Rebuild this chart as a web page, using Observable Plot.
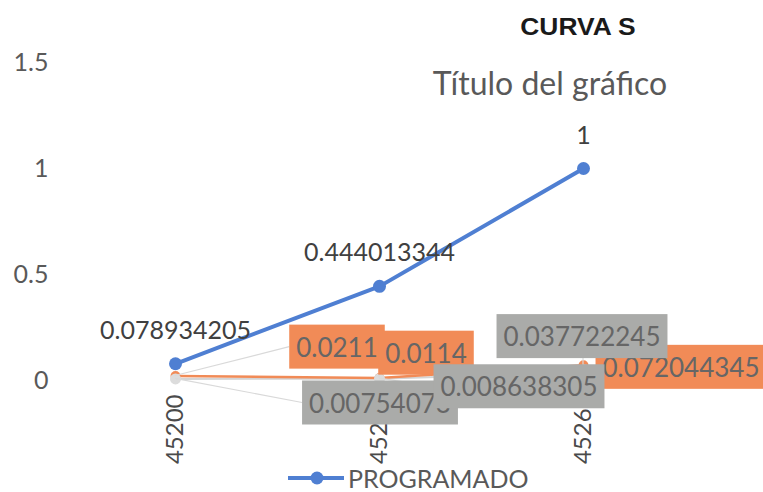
<!DOCTYPE html>
<html>
<head>
<meta charset="utf-8">
<script src="https://cdn.jsdelivr.net/npm/d3@7"></script>
<script src="https://cdn.jsdelivr.net/npm/@observablehq/plot@0.6"></script>
<style>
  html, body { margin: 0; padding: 0; background: #fff; }
  #wrap { position: relative; width: 763px; height: 492px; overflow: hidden; background: #fff; }
  #title { position: absolute; left: 578px; top: 13px; white-space: nowrap;
           font-family: "Liberation Sans", Arial, sans-serif; font-weight: bold; font-size: 24px; color: #1a1a1a;
           transform: translateX(-50%) scaleX(1.1); }
  #subtitle { position: absolute; left: 550px; top: 63px; white-space: nowrap; transform: translateX(-50%);
              font-family: Lato, sans-serif; font-size: 32px; color: #595959; }
  #legend { position: absolute; left: 288px; top: 463px; display: flex; align-items: center;
            font-family: Lato, sans-serif; font-size: 25px; color: #595959; }
  #legend svg { margin-right: 2px; }
</style>
</head>
<body>
<div id="wrap">
  <div id="chart"></div>
  <div id="title">CURVA S</div>
  <div id="subtitle">Título del gráfico</div>
  <div id="legend"></div>
</div>
<script>
// ---- data ----
const categories = ["45200", "45231", "45261"];
const programado = [0.078934205, 0.444013344, 1];
const serieNaranja = [0.0211, 0.0114, 0.072044345];
const serieGris = [0.00754073, 0.008638305, 0.037722245];
const yTicks = [0, 0.5, 1, 1.5];
const legendLabel = "PROGRAMADO";

// ---- layout (label callout offsets in px, relative to their point) ----
const orangeOffsets = [[162, -28], [47, -24], [98, 3]];
const grayOffsets = [[205, 25], [140, 9], [-1, -35]];

const BLUE = "#4f7fd2", ORANGE = "#f18b57", GRAY = "#aaaba9";

const rows = (vals) => categories.map((c, i) => ({cat: c, v: vals[i]}));

const chart = Plot.plot({
  width: 763,
  height: 492,
  marginLeft: 73,
  marginRight: 78,
  marginTop: 62,
  marginBottom: 112,
  x: {type: "point", domain: categories, padding: 0.5, label: null},
  y: {domain: [0, 1.5], label: null},
  style: {fontFamily: "Lato, sans-serif", color: "#595959", background: "white", overflow: "visible"},
  marks: [
    Plot.axisY({ticks: yTicks, tickSize: 0, tickPadding: 25, fontSize: 25, label: null, tickFormat: d => String(d)}),
    Plot.axisX({tickSize: 0, tickRotate: -90, tickPadding: 14, fontSize: 24, label: null, fill: "#4a4a4a"}),
    Plot.line(rows(serieGris), {x: "cat", y: "v", stroke: "#d4d4d4", strokeWidth: 2}),
    Plot.line(rows(serieNaranja), {x: "cat", y: "v", stroke: ORANGE, strokeWidth: 2.5}),
    Plot.dot(rows(serieNaranja), {x: "cat", y: "v", fill: ORANGE, r: 5}),
    Plot.dot(rows(serieGris), {x: "cat", y: "v", fill: "#dcdcdc", r: 5.5}),
    Plot.line(rows(programado), {x: "cat", y: "v", stroke: BLUE, strokeWidth: 4}),
    Plot.dot(rows(programado), {x: "cat", y: "v", fill: BLUE, r: 6.5}),
    Plot.text(rows(programado), {x: "cat", y: "v", text: d => String(d.v), dy: -33, fontSize: 25, fill: "#404040"})
  ]
});
document.getElementById("chart").appendChild(chart);

// ---- callout labels with boxes, positioned via the plot's own scales ----
const sx = chart.scale("x"), sy = chart.scale("y");
const svg = d3.select(chart);
const leaders = svg.append("g").attr("stroke", "#d9d9d9").attr("stroke-width", 1.2);
const labels = svg.append("g").attr("font-family", "Lato, sans-serif").attr("font-size", 26)
  .attr("text-anchor", "middle");

function addLabels(values, offsets, fill) {
  values.forEach((v, i) => {
    const px = sx.apply(categories[i]), py = sy.apply(v);
    const [dx, dy] = offsets[i];
    const lx = px + dx, ly = py + dy;
    const g = labels.append("g");
    const rect = g.append("rect").attr("fill", fill);
    const t = g.append("text").attr("x", lx).attr("y", ly).attr("dy", "0.35em")
      .attr("fill", "#666666").text(String(v));
    const b = t.node().getBBox();
    const padX = 7, padY = 6;
    const x0 = b.x - padX, y0 = b.y - padY, w = b.width + 2 * padX, h = b.height + 2 * padY;
    rect.attr("x", x0).attr("y", y0).attr("width", w).attr("height", h);
    // leader line from point to the midpoint of the nearest box side
    let ex, ey;
    if (px < x0) { ex = x0; ey = y0 + h / 2; }
    else if (px > x0 + w) { ex = x0 + w; ey = y0 + h / 2; }
    else { ex = px; ey = py < y0 ? y0 : y0 + h; }
    leaders.append("line").attr("x1", px).attr("y1", py).attr("x2", ex).attr("y2", ey);
  });
}
addLabels(serieNaranja, orangeOffsets, ORANGE);
addLabels(serieGris, grayOffsets, GRAY);

// ---- legend ----
const lg = d3.select("#legend");
const ls = lg.append("svg").attr("width", 58).attr("height", 20);
ls.append("line").attr("x1", 0).attr("x2", 56).attr("y1", 10).attr("y2", 10).attr("stroke", BLUE).attr("stroke-width", 4);
ls.append("circle").attr("cx", 29).attr("cy", 10).attr("r", 6.5).attr("fill", BLUE);
lg.append("span").text(legendLabel);
</script>
</body>
</html>
